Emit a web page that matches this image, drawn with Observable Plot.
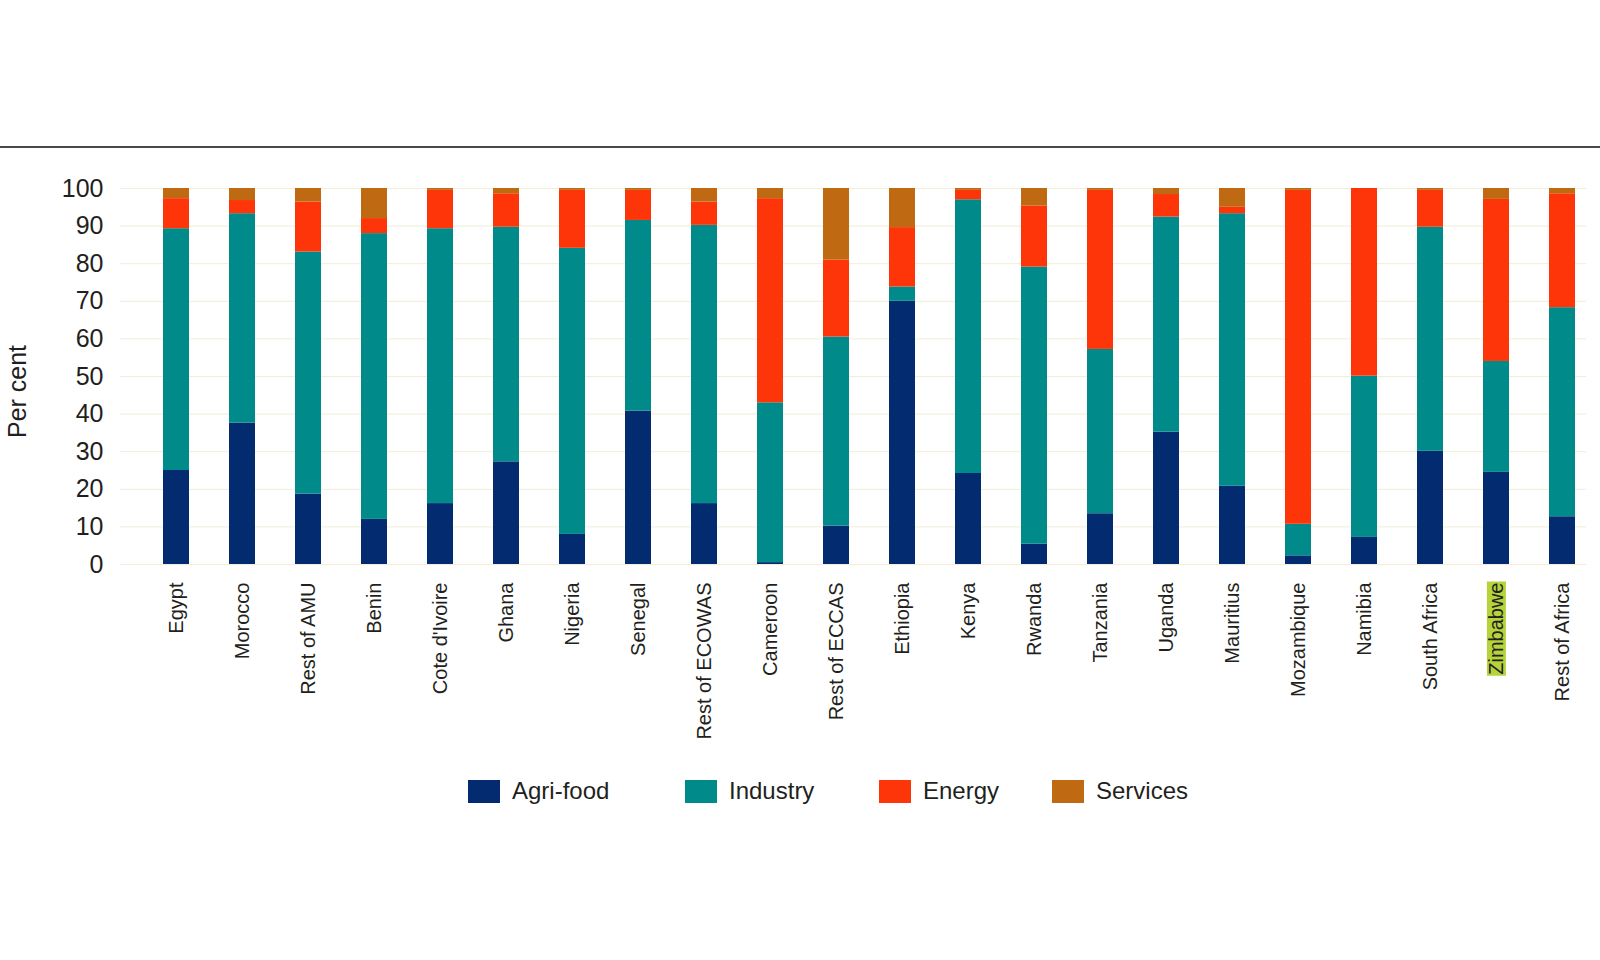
<!DOCTYPE html>
<html>
<head>
<meta charset="utf-8">
<script src="https://cdn.jsdelivr.net/npm/d3@7"></script>
<script src="https://cdn.jsdelivr.net/npm/@observablehq/plot@0.6"></script>
<style>
  body { margin: 0; background: #fff; font-family: "Liberation Sans", Arial, sans-serif; }
  #wrap { position: relative; width: 1600px; height: 960px; overflow: hidden; }
  #topline { position: absolute; left: 0; top: 146px; width: 1600px; height: 2px; background: #4a4a4a; }
  #chart { position: absolute; left: 0; top: 148px; }
  #legend { position: absolute; left: 0; top: 779px; width: 1600px; height: 24px; }
  .item { position: absolute; top: 0; height: 24px; display: flex; align-items: center; font-size: 24px; color: #231f20; white-space: nowrap; }
  .sw { width: 32px; height: 23px; margin-right: 12px; flex: none; }
</style>
</head>
<body>
<div id="wrap">
  <div id="topline"></div>
  <div id="chart"></div>
  <div id="legend"></div>
</div>
<script>
const regions = ["Egypt", "Morocco", "Rest of AMU", "Benin", "Cote d'Ivoire", "Ghana", "Nigeria", "Senegal",
  "Rest of ECOWAS", "Cameroon", "Rest of ECCAS", "Ethiopia", "Kenya", "Rwanda", "Tanzania", "Uganda",
  "Mauritius", "Mozambique", "Namibia", "South Africa", "Zimbabwe", "Rest of Africa"];

const sectors = ["Agri-food", "Industry", "Energy", "Services"];
const sectorColors = ["#032b6f", "#008a8a", "#fe3508", "#bf6a12"];

const agriFood = [25, 37.6, 18.7, 12, 16.2, 27.3, 8, 40.8, 16.2, 0.5, 10.2, 70, 24.2, 5.4, 13.5, 35.2, 20.8, 2.3, 7.2, 30.1, 24.5, 12.7];
const industry = [64.3, 55.7, 64.4, 76, 73.1, 62.4, 76.1, 50.7, 74, 42.5, 50.3, 3.8, 72.8, 73.7, 43.7, 57.2, 72.5, 8.4, 42.9, 59.6, 29.5, 55.6];
const energy   = [8, 3.5, 13.3, 4, 10.2, 8.9, 15.4, 8, 6.2, 54.3, 20.5, 15.8, 2.5, 16.2, 42.3, 6, 1.7, 88.8, 49.9, 9.8, 43.1, 30.3];
const services = [2.7, 3.2, 3.6, 8, 0.5, 1.4, 0.5, 0.5, 3.6, 2.7, 19, 10.4, 0.5, 4.7, 0.5, 1.6, 5, 0.5, 0, 0.5, 2.9, 1.4];

const yTicks = [0, 10, 20, 30, 40, 50, 60, 70, 80, 90, 100];
const yLabel = "Per cent";

const series = [agriFood, industry, energy, services];
const data = regions.flatMap((r, i) => sectors.map((s, j) => ({region: r, sector: s, value: series[j][i]})));

const fontFamily = "'Liberation Sans', Arial, sans-serif";

const chart = Plot.plot({
  width: 1600,
  height: 602,
  marginTop: 40,
  marginBottom: 186,
  marginLeft: 153,
  marginRight: 14,
  style: {fontFamily, color: "#231f20", background: "transparent", overflow: "visible"},
  x: {domain: regions, paddingInner: 0.6, paddingOuter: 0.1, label: null},
  y: {domain: [0, 100], label: null},
  color: {domain: sectors, range: sectorColors},
  marks: [
    Plot.ruleY(yTicks, {stroke: "#f2edd6", strokeWidth: 1, insetLeft: -33}),
    Plot.barY(data, {x: "region", y: "value", fill: "sector"}),
    Plot.axisY({ticks: yTicks, tickSize: 0, tickPadding: 50, fontSize: 25, label: null}),
    Plot.axisX({tickSize: 0, tickPadding: 18, tickRotate: -90, fontSize: 20, label: null}),
    Plot.text([yLabel], {frameAnchor: "left", textAnchor: "middle", rotate: -90, dx: -136, dy: 15, fontSize: 25, fill: "#231f20"})
  ]
});
document.getElementById("chart").appendChild(chart);

// highlight behind the Zimbabwe label, as in the source image
chart.querySelectorAll("text").forEach(t => {
  if (t.textContent === "Zimbabwe") {
    const b = t.getBBox();
    const rect = document.createElementNS("http://www.w3.org/2000/svg", "rect");
    rect.setAttribute("x", b.x - 1);
    rect.setAttribute("y", b.y + 2);
    rect.setAttribute("width", b.width + 2);
    rect.setAttribute("height", b.height - 3);
    rect.setAttribute("fill", "#b5d33a");
    const tr = t.getAttribute("transform");
    if (tr) rect.setAttribute("transform", tr);
    t.parentNode.insertBefore(rect, t);
  }
});

// legend
const legendX = [468, 685, 879, 1052];
const legend = document.getElementById("legend");
sectors.forEach((s, i) => {
  const item = document.createElement("div");
  item.className = "item";
  item.style.left = legendX[i] + "px";
  const sw = document.createElement("div");
  sw.className = "sw";
  sw.style.background = sectorColors[i];
  const lab = document.createElement("span");
  lab.textContent = s;
  item.appendChild(sw);
  item.appendChild(lab);
  legend.appendChild(item);
});
</script>
</body>
</html>
